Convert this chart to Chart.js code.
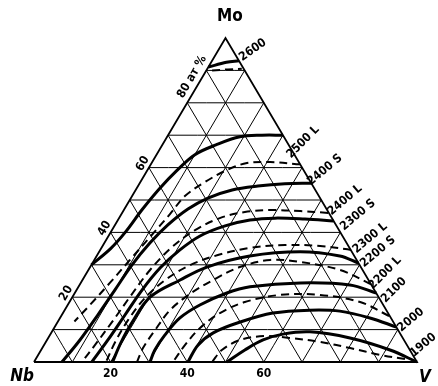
<!DOCTYPE html>
<html>
<head>
<meta charset="utf-8">
<script src="https://cdn.jsdelivr.net/npm/chart.js@4"></script>
<style>
  html, body { margin: 0; padding: 0; background: #fff; }
  #wrap { width: 438px; height: 386px; }
</style>
</head>
<body>
<div id="wrap"><canvas id="chart" width="438" height="386"></canvas></div>
<script>
// Mo–Nb–V ternary, at.%: V along the base (Nb -> V), Mo towards the apex

const gridSteps = [10, 20, 30, 40, 50, 60, 70, 80, 90];
const moTickValues = [20, 40, 60];
const vTickValues = [20, 40, 60];

// solid isotherms (V %, Mo %)
const v2600 = [0, 4, 7];
const mo2600 = [91, 92.5, 93];
const v2500L = [30, 24.5, 19, 14, 10, 7.7, 6, 4.7, 3.8, 2.5, 0];
const mo2500L = [70, 70, 69.5, 67, 64, 59, 53.5, 47, 40, 35, 30];
const v2400L = [44.8, 38, 31.3, 25.2, 20.1, 16.6, 13.8, 11.9, 10.6, 10, 9.4, 8.6, 7.3];
const mo2400L = [55.2, 55, 54.3, 53.1, 50.6, 47.2, 42.3, 36.7, 29.9, 22.2, 14.5, 6.8, 0];
const v2300L = [56.5, 48.7, 40.7, 34.5, 28.9, 23.9, 20.8, 18.4, 17.1, 16.5, 15.9, 15.1];
const mo2300L = [43.5, 44.1, 44.4, 43.8, 42, 38.9, 34.6, 29, 22.2, 14.5, 6.8, 0];
const v2200L = [69.5, 63.5, 52.5, 40, 30.5, 25.5, 20.3, 19.5, 19.7, 20.5];
const mo2200L = [30.5, 32.7, 34, 32.7, 29.3, 25.3, 20, 12, 6, 0];
const v2100 = [78.7, 70.6, 57.3, 44.8, 39.7, 34.5, 31.3, 30, 29.7, 30.3];
const mo2100 = [21.3, 23.8, 24.4, 23.2, 21.3, 17.6, 13.6, 8.3, 3.7, 0];
const v2000 = [89.2, 80.9, 72, 64, 54.8, 47.6, 42.3, 40.2, 40.2];
const mo2000 = [10.8, 13.6, 15.7, 16, 15.1, 12.3, 9, 5.2, 0];
const v1900 = [100, 91.1, 78.8, 67.4, 60.7, 56.4, 53.2, 50.4];
const mo1900 = [0, 3.7, 7.4, 9.3, 8.6, 6.8, 3.7, 0];

// dashed isotherms
const v2600S = [1.5, 5.5, 9];
const mo2600S = [90, 90.3, 90.5];
const v2400S = [39, 30.8, 24.9, 20.8, 16.9, 13.8, 12.7, 11, 9.3, 7.6, 5.8, 4.3];
const mo2400S = [61, 61.7, 61.4, 59.3, 55.6, 51.2, 45.7, 38.6, 31.5, 24.4, 17.6, 12.5];
const v2300S = [53.8, 46.2, 38.2, 31.9, 26.3, 21.7, 18.3, 16.1, 15, 14.2, 13.3, 12.5];
const mo2300S = [46, 46.6, 46.9, 46.3, 44.4, 40.7, 35.5, 28.4, 20.1, 12.3, 5.2, 0];
const v2200S = [65.5, 56.8, 47.5, 38.8, 31.5, 25.8, 21.6, 19.1, 18.1, 18.1, 18.8];
const mo2200S = [34.6, 35.8, 36.1, 35.2, 33, 29.9, 25.3, 19.8, 13, 6.2, 0];
const v2100S = [76, 65.7, 54, 45.9, 39.1, 34.1, 30.2, 27.5, 26.7, 26.3, 26.9];
const mo2100S = [24, 28.4, 30.9, 31.5, 29.3, 25.3, 21, 16, 9.9, 4.3, 0];
const v2000S = [85.6, 75.9, 64.3, 53.9, 45.8, 41, 38.1, 36.8, 36.3];
const mo2000S = [14.2, 18.5, 20.7, 20.7, 18.5, 15.1, 10.5, 5.2, 0];
const v1900S = [96.4, 89.3, 80.4, 71.6, 63.1, 56.3, 50.4, 47.2, 46.5];
const mo1900S = [0.9, 2.2, 4.3, 6.2, 7.4, 8, 6.8, 3.7, 0];

const solidCurves = [
  [v2600, mo2600], [v2500L, mo2500L], [v2400L, mo2400L], [v2300L, mo2300L],
  [v2200L, mo2200L], [v2100, mo2100], [v2000, mo2000], [v1900, mo1900]
];
const dashedCurves = [
  [v2600S, mo2600S], [v2400S, mo2400S], [v2300S, mo2300S], [v2200S, mo2200S],
  [v2100S, mo2100S], [v2000S, mo2000S], [v1900S, mo1900S]
];

// ternary composition -> plot coordinates
const toXY = (v, mo) => ({ x: v + mo / 2, y: mo });
const curve = (vs, mos) => vs.map((v, i) => toXY(v, mos[i]));

const isoFont = 'bold 12px "DejaVu Sans Condensed", "DejaVu Sans", sans-serif';
const tickFont = 'bold 12px "DejaVu Sans Condensed", "DejaVu Sans", sans-serif';
const titleFont = 'bold 17px "DejaVu Sans Condensed", "DejaVu Sans", sans-serif';

// text anchors, given as compositions (outside the triangle where needed)
const textLabels = [
  { text: 'Mo', v: -2.1, mo: 106.5, rot: 0, font: titleFont },
  { text: 'Nb', v: -0.8, mo: -4.6, rot: 0, font: 'italic ' + titleFont },
  { text: 'V', v: 104.5, mo: -4.9, rot: 0, font: 'italic ' + titleFont },
  { text: '80 ат %', v: -2.75, mo: 88, rot: -60, font: tickFont },
  { text: '2600', v: 9, mo: 96.3, rot: -35, font: isoFont },
  { text: '2500 L', v: 36.3, mo: 67.9, rot: -45, font: isoFont },
  { text: '2400 S', v: 46.3, mo: 59.3, rot: -40, font: isoFont },
  { text: '2400 L', v: 56.2, mo: 50, rot: -40, font: isoFont },
  { text: '2300 S', v: 61.9, mo: 45.4, rot: -40, font: isoFont },
  { text: '2300 L', v: 68.6, mo: 38.3, rot: -40, font: isoFont },
  { text: '2200 S', v: 72.8, mo: 34, rot: -40, font: isoFont },
  { text: '2200 L', v: 77.9, mo: 27.5, rot: -45, font: isoFont },
  { text: '2100', v: 82.9, mo: 22.2, rot: -45, font: isoFont },
  { text: '2000', v: 91.9, mo: 13, rot: -40, font: isoFont },
  { text: '1900', v: 99, mo: 5.2, rot: -40, font: isoFont }
];
moTickValues.forEach(m => {
  textLabels.push({ text: String(m), v: -2.2, mo: m + 1.2, rot: -60, font: tickFont });
});
vTickValues.forEach(v => {
  textLabels.push({ text: String(v), v: v + 1.8, mo: -3.6, rot: 0, font: tickFont });
});

const lineSet = (data, width, dash) => ({
  data,
  showLine: true,
  borderColor: '#000',
  borderWidth: width,
  borderDash: dash || [],
  pointRadius: 0,
  fill: false,
  tension: 0.35,
  clip: false
});

const datasets = [];

// grid
gridSteps.forEach(k => {
  datasets.push(lineSet([toXY(0, k), toXY(100 - k, k)], 1));
  datasets.push(lineSet([toXY(k, 0), toXY(k, 100 - k)], 1));
  datasets.push(lineSet([toXY(0, 100 - k), toXY(100 - k, 0)], 1));
});

// triangle edges
const edge = lineSet([toXY(0, 0), toXY(100, 0), toXY(0, 100), toXY(0, 0)], 1.8);
edge.tension = 0;
datasets.push(edge);

solidCurves.forEach(([vs, mos]) => datasets.push(lineSet(curve(vs, mos), 3)));
dashedCurves.forEach(([vs, mos]) => datasets.push(lineSet(curve(vs, mos), 2, [8, 5])));

const labelPlugin = {
  id: 'ternaryLabels',
  afterDraw(chart) {
    const { ctx, scales: { x, y } } = chart;
    ctx.save();
    ctx.fillStyle = '#000';
    ctx.textAlign = 'center';
    ctx.textBaseline = 'middle';
    textLabels.forEach(l => {
      const p = toXY(l.v, l.mo);
      ctx.save();
      ctx.translate(x.getPixelForValue(p.x), y.getPixelForValue(p.y));
      ctx.rotate(l.rot * Math.PI / 180);
      ctx.font = l.font;
      ctx.fillText(l.text, 0, 0);
      ctx.restore();
    });
    ctx.restore();
  }
};

new Chart(document.getElementById('chart'), {
  type: 'scatter',
  data: { datasets },
  options: {
    responsive: false,
    devicePixelRatio: 1,
    animation: false,
    layout: { padding: { left: 34, right: 21, top: 38, bottom: 24 } },
    scales: {
      x: { type: 'linear', min: 0, max: 100, display: false },
      y: { type: 'linear', min: 0, max: 100, display: false }
    },
    plugins: {
      legend: { display: false },
      tooltip: { enabled: false }
    }
  },
  plugins: [labelPlugin]
});
</script>
</body>
</html>
